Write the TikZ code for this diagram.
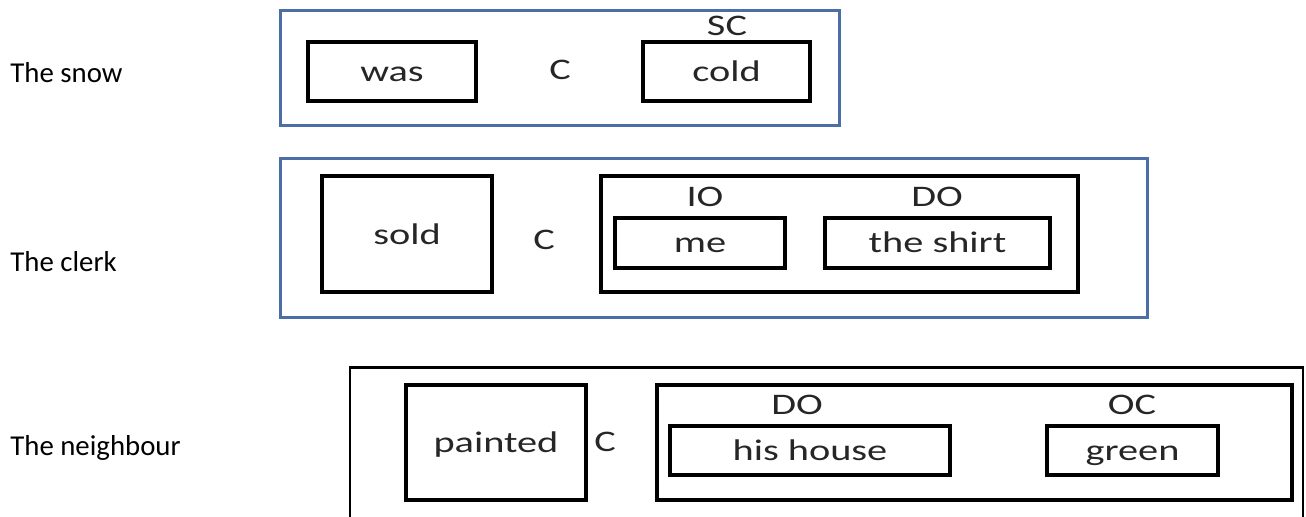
\documentclass[tikz,border=0pt]{standalone}
\usepackage{fontspec}
\setmainfont{Carlito}
\newfontfamily\boxfont[FakeStretch=1.35]{Carlito}
\usepackage{tikz}
\usetikzlibrary{positioning}
\definecolor{frameblue}{RGB}{74,110,165}
\tikzset{
	word/.style={draw, line width=2pt, font=\boxfont\fontsize{17}{20}\selectfont, text=black!85, text height=11pt, text depth=0pt, inner sep=0pt},
	tag/.style={font=\boxfont\fontsize{17}{20}\selectfont, text=black!85, inner sep=0pt},
	outer/.style={draw=frameblue, line width=1.7pt, inner sep=0pt},
	subject/.style={anchor=west, font=\fontsize{16.4}{19}\selectfont, inner sep=0pt}
}

\begin{document}
\begin{tikzpicture}[x=0.02cm, y=-0.02cm]
        \useasboundingbox (0, 0) rectangle (1306, 517);
        % The snow
        \node[subject] (snow) at (10, 73) {The snow};
        \node[outer, minimum width=11.2cm, minimum height=2.32cm] (frame_1) at (560, 68) {};
        \node[word, minimum width=3.36cm, minimum height=1.18cm] (was) at (392, 71.5) {was};
        \node[tag] (c_1) at (560, 70) {C};
        \node[word, minimum width=3.34cm, minimum height=1.18cm] (cold) at (726.5, 71.5) {cold};
        \node[tag] (sc) at (727, 26) {SC};
        % The clerk
        \node[subject] (clerk) at (10, 262) {The clerk};
        \node[outer, minimum width=17.36cm, minimum height=3.2cm] (frame_2) at (714, 238) {};
        \node[word, minimum width=3.4cm, minimum height=2.32cm] (sold) at (407, 234) {};
        \node[tag] (sold_txt) at (407, 234) {sold};
        \node[tag] (c_2) at (544, 240) {C};
        \node[word, minimum width=9.54cm, minimum height=2.32cm] (obj_2) at (839.5, 234) {};
        \node[tag] (io) at (705, 197) {IO};
        \node[tag] (do_2) at (937, 197) {DO};
        \node[word, minimum width=3.4cm, minimum height=1cm] (me) at (700, 243) {me};
        \node[word, minimum width=4.5cm, minimum height=1cm] (shirt) at (937.5, 243) {the shirt};
        % The neighbour
        \node[subject] (neighbour) at (10, 448) {The neighbour};
        \node[outer, draw=black, line width=1.3pt, minimum width=19.06cm, minimum height=3.1cm] (frame_3) at (826.5, 445) {};
        \node[word, minimum width=3.6cm, minimum height=2.3cm] (painted) at (496, 442.5) {painted};
        \node[tag] (c_3) at (605, 442) {C};
        \node[word, minimum width=12.7cm, minimum height=2.3cm] (obj_3) at (974.5, 442.5) {};
        \node[tag] (do_3) at (797, 405) {DO};
        \node[tag] (oc) at (1132, 405) {OC};
        \node[word, minimum width=5.6cm, minimum height=0.98cm] (house) at (810, 450.5) {his house};
        \node[word, minimum width=3.42cm, minimum height=0.98cm] (green) at (1132.5, 450.5) {green};
    \end{tikzpicture}
\end{document}
